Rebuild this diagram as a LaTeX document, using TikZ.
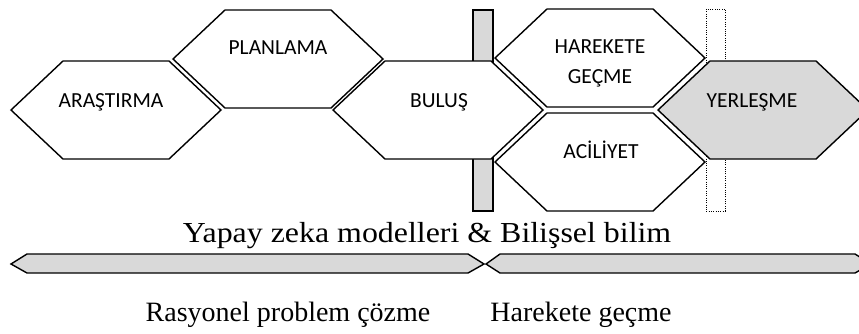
\documentclass[tikz,border=0pt]{standalone}
\usepackage{fontspec}
\setmainfont{Liberation Serif}
\newfontfamily\labelfont{Carlito}
\definecolor{lightfill}{HTML}{D9D9D9}
\tikzset{
  hexbox/.style={draw=black, line width=1.4pt, line join=miter, fill=white},
  hexgray/.style={hexbox, fill=lightfill},
  hexlabel/.style={font=\labelfont\fontsize{21.5}{26}\selectfont, anchor=base, inner sep=0pt, align=center},
  barbox/.style={draw=black, line width=1.3pt, fill=lightfill},
  dotbox/.style={draw=black, line width=1pt, dash pattern=on 1pt off 1.3pt},
  band/.style={draw=black, line width=1.4pt, fill=lightfill, line join=miter},
  caption/.style={font=\fontsize{29}{33}\selectfont, anchor=base, inner sep=0pt},
  phase/.style={font=\fontsize{28}{32}\selectfont, anchor=base, inner sep=0pt}
}
% wide serif caption text
\newcommand{\widetext}[1]{\scalebox{1.1}[1]{#1}}
% hexagon: left tip x, centre y, style
\newcommand{\hexat}[3]{%
  \path[#3] (#1,#2) -- ++(52,-49) -- ++(106,0) -- ++(52,49)
     -- ++(-52,49) -- ++(-106,0) -- cycle;}
\begin{document}
\begin{tikzpicture}[x=1pt,y=-1pt]
\useasboundingbox (0,0) rectangle (859,333);
\begin{scope}
\clip (0,0) rectangle (859,333);
% separator markers behind the hexagons
\path[barbox] (473,10) rectangle (493,211);
\path[dotbox] (706,9) rectangle (725,211);
% process hexagons
\hexat{11}{110}{hexbox}
\hexat{173}{59}{hexbox}
\hexat{333}{110}{hexbox}
\hexat{495}{58}{hexbox}
\hexat{495}{162}{hexbox}
\hexat{658}{110}{hexgray}
% phase bands
\path[band] (11,264) -- (27,254) -- (468,254) -- (484,264) -- (468,273) -- (27,273) -- cycle;
\path[band] (486,264) -- (500,254) -- (855,254) -- (871,264) -- (855,273) -- (500,273) -- cycle;
\end{scope}
% hexagon labels
\node[hexlabel] (arastirma) at (111,107) {ARAŞTIRMA};
\node[hexlabel] (planlama) at (278,54) {PLANLAMA};
\node[hexlabel] (bulus) at (439,107) {BULUŞ};
\node[hexlabel] (harekete) at (600,53) {HAREKETE};
\node[hexlabel] (gecme) at (600,83) {GEÇME};
\node[hexlabel] (aciliyet) at (601,158) {ACİLİYET};
\node[hexlabel] (yerlesme) at (752,107) {YERLEŞME};
% captions
\node[caption] (ai) at (427,242) {\widetext{Yapay zeka modelleri \& Bilişsel bilim}};
\node[phase] (rational) at (288,321) {Rasyonel problem çözme};
\node[phase] (action) at (581,321) {Harekete geçme};
\end{tikzpicture}
\end{document}
